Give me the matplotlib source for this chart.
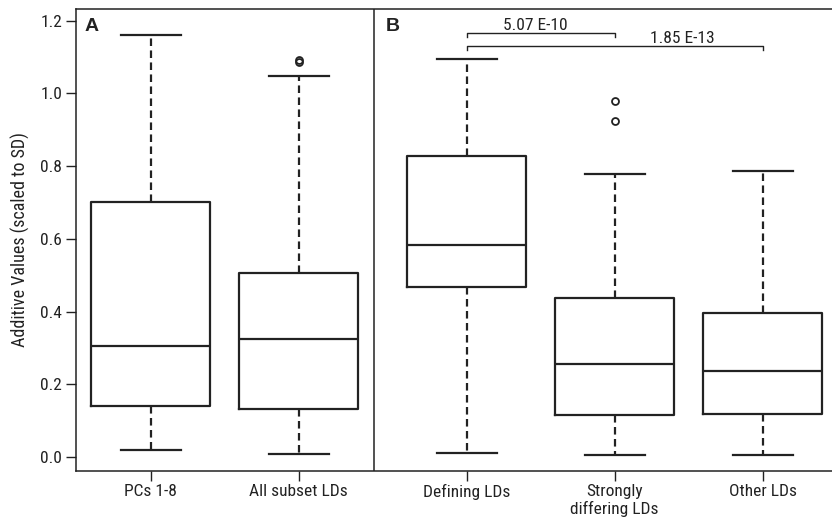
import matplotlib
matplotlib.use("Agg")
import matplotlib.pyplot as plt

plt.rcParams['font.family'] = ['Roboto Condensed', 'DejaVu Sans']

categories = ["PCs 1-8", "All subset LDs", "Defining LDs", "Strongly\ndiffering LDs", "Other LDs"]
whislo = [0.018, 0.009, 0.011, 0.005, 0.005]
q1 = [0.139, 0.133, 0.467, 0.116, 0.119]
med = [0.305, 0.325, 0.583, 0.257, 0.236]
q3 = [0.701, 0.507, 0.828, 0.438, 0.396]
whishi = [1.160, 1.048, 1.095, 0.778, 0.787]
fliers = [[], [1.086, 1.093], [], [0.923, 0.980], []]

positions = [1, 2, 3.135, 4.135, 5.135]
pvals = ["5.07 E-10", "1.85 E-13"]
bracket_y = [1.165, 1.130]
bracket_ends = [(2, 3), (2, 4)]

fig = plt.figure(figsize=(8.32, 5.23), dpi=100)
ax = fig.add_axes([0.0913, 0.0994, 0.9087, 0.8834])

stats = []
for i in range(len(categories)):
    stats.append(dict(whislo=whislo[i], q1=q1[i], med=med[i], q3=q3[i],
                      whishi=whishi[i], fliers=fliers[i], label=categories[i]))

lw = 1.6
ax.bxp(stats, positions=positions, widths=0.806, capwidths=0.403,
       boxprops=dict(color='#222222', linewidth=lw),
       medianprops=dict(color='#222222', linewidth=lw),
       whiskerprops=dict(color='#222222', linewidth=lw, linestyle=(0, (3.4, 2.0))),
       capprops=dict(color='#222222', linewidth=lw),
       flierprops=dict(marker='o', markersize=5, markerfacecolor='none',
                       markeredgecolor='#222222', markeredgewidth=1.3),
       manage_ticks=False)

ax.set_xlim(0.495, 5.603)
ax.set_ylim(-0.0385, 1.232)
ax.set_xticks(positions)
ax.set_xticklabels(categories, fontsize=12.5, color='#222222', linespacing=1.2)
ax.set_yticks([0.0, 0.2, 0.4, 0.6, 0.8, 1.0, 1.2])
ax.set_yticklabels(["0.0", "0.2", "0.4", "0.6", "0.8", "1.0", "1.2"], fontsize=12.5, color='#222222')
ax.tick_params(axis='both', direction='out', length=7, width=1, color='#222222', pad=3)
ax.tick_params(axis='x', pad=2)
ax.set_ylabel("Additive Values (scaled to SD)", fontsize=13, color='#222222', labelpad=7)

for s in ['left', 'bottom', 'top']:
    ax.spines[s].set_linewidth(1.1)
    ax.spines[s].set_color('#222222')
ax.spines['right'].set_visible(False)

ax.axvline(2.509, color='#222222', linewidth=1.1)

ax.text(0.555, 1.207, "A", fontsize=14, fontweight='bold', va='top', ha='left', color='#222222',
        family=['Liberation Sans', 'DejaVu Sans'])
ax.text(2.585, 1.207, "B", fontsize=14, fontweight='bold', va='top', ha='left', color='#222222',
        family=['Liberation Sans', 'DejaVu Sans'])

for (a, b), y in zip(bracket_ends, bracket_y):
    xa, xb = positions[a], positions[b]
    ax.plot([xa, xa, xb, xb], [y - 0.01, y, y, y - 0.01], color='#222222', linewidth=1.0)
for p, xc, yc in zip(pvals, [3.6, 4.59], [1.187, 1.152]):
    ax.text(xc, yc, p, fontsize=12.5, ha='center', va='center', color='#222222')

fig.savefig("out.png", dpi=100)
